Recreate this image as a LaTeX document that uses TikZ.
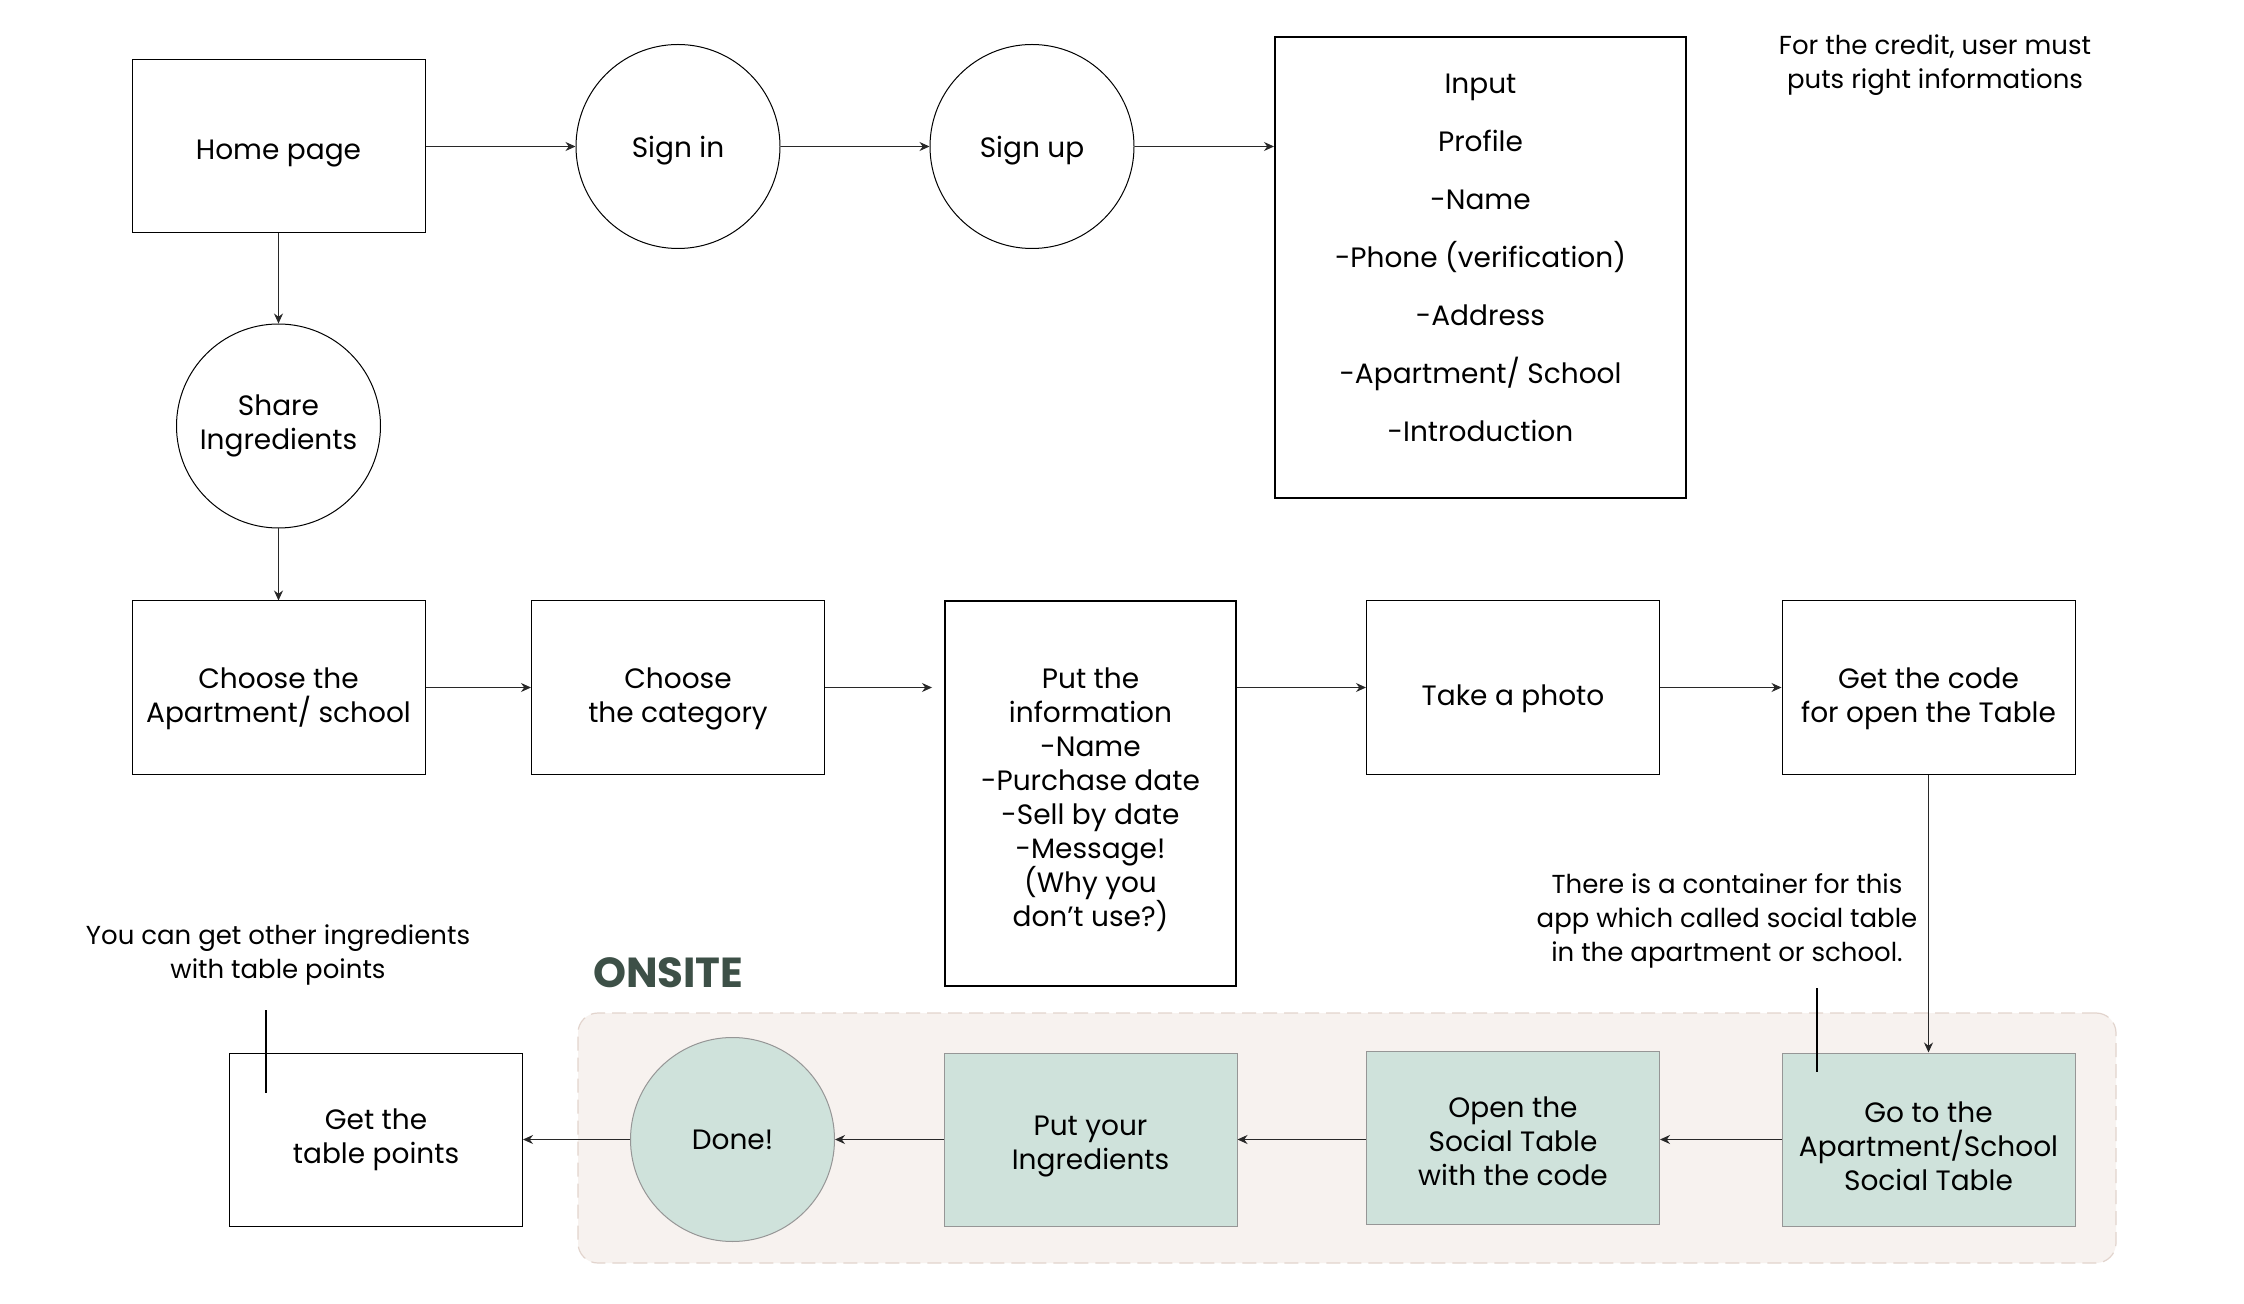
\documentclass[tikz,border=0pt]{standalone}
\usepackage{fontspec}
\setmainfont{Poppins}
\usetikzlibrary{arrows.meta}
\definecolor{greenfill}{RGB}{207,226,219}
\definecolor{greenline}{RGB}{150,150,150}
\definecolor{zonefill}{RGB}{247,242,239}
\definecolor{zoneline}{RGB}{226,212,205}
\definecolor{onsitec}{RGB}{61,80,71}
\definecolor{arrowc}{RGB}{40,40,40}
\begin{document}
\begin{tikzpicture}[x=0.5pt,y=-0.5pt,
  every node/.style={font=\fontsize{14}{17}\selectfont, align=center, text=black},
  box/.style={draw=black, line width=0.5pt, rectangle, minimum width=146.5pt, minimum height=86.5pt, inner sep=0pt},
  thickbox/.style={box, line width=1pt},
  circ/.style={draw=black, line width=0.5pt, circle, minimum size=102pt, inner sep=0pt},
  gbox/.style={box, fill=greenfill, draw=greenline},
  gcirc/.style={circ, fill=greenfill, draw=greenline},
  arr/.style={draw=arrowc, line width=0.6pt, -{Stealth[length=5pt,width=4.5pt]}},
  note/.style={font=\fontsize{13}{17}\selectfont},
  pointer/.style={draw=black, line width=0.8pt},
  zone/.style={draw=zoneline, fill=zonefill, line width=0.6pt, dash pattern=on 7pt off 3.5pt, rounded corners=10pt, minimum width=769pt, minimum height=125pt, inner sep=0pt},
]
\fill[white] (0,0) rectangle (2244,1304);
\useasboundingbox (0,0) rectangle (2244,1304);

% onsite zone
\node[zone] (zone) at (1347,1138) {};
\node[font=\fontsize{21}{22}\selectfont\bfseries, text=onsitec, anchor=west] (onsite) at (586,973) {ONSITE};

% row 1
\node[box, text height=16.4pt] (home) at (278.5,146.5) {Home page};
\node[circ, text height=14.4pt] (signin) at (678,146.5) {Sign in};
\node[circ, text height=14.4pt] (signup) at (1032,146.5) {Sign up};
\node[thickbox, minimum width=205.5pt, minimum height=230.5pt, font=\fontsize{14}{29}\selectfont, text height=174.4pt] (input) at (1480.5,267.5)
  {Input\\Profile\\-Name\\-Phone (verification)\\-Address\\-Apartment/ School\\-Introduction};
\node[note] (credit) at (1935,65) {For the credit, user must\\puts right informations};

\node[circ] (share) at (278.5,426) {Share\\Ingredients};

% row 2
\node[box, text height=38.4pt] (apt) at (278.5,687.5) {Choose the\\Apartment/ school};
\node[box, text height=38.4pt] (cat) at (678,687.5) {Choose\\the category};
\node[thickbox, minimum width=145.5pt, minimum height=192.5pt, text height=135.4pt] (info) at (1090.5,793.5)
  {Put the\\information\\-Name\\-Purchase date\\-Sell by date\\-Message!\\(Why you\\don’t use?)};
\node[box, text height=21.4pt] (photo) at (1513,687.5) {Take a photo};
\node[box, text height=38.4pt] (code) at (1928.5,687.5) {Get the code\\for open the Table};

% notes
\node[note] (container) at (1727,921) {There is a container for this\\app which called social table\\in the apartment or school.};
\node[note] (other) at (278,955) {You can get other ingredients\\with table points};

% row 3
\node[box] (points) at (376,1139.5) {Get the\\table points};
\node[gcirc] (done) at (732.5,1139.5) {Done!};
\node[gbox, text height=33.4pt] (put) at (1090.5,1139.5) {Put your\\Ingredients};
\node[gbox, text height=48.4pt] (open) at (1513,1137.5) {Open the\\Social Table\\with the code};
\node[gbox, text height=51.4pt] (go) at (1928.5,1139.5) {Go to the\\Apartment/School\\Social Table};

% connectors
\draw[arr] (home) -- (signin);
\draw[arr] (signin) -- (signup);
\draw[arr] (signup.east) -- (signup.east -| input.west);
\draw[arr] (home) -- (share);
\draw[arr] (share) -- (apt);
\draw[arr] (apt) -- (cat);
\draw[arr, shorten >=6pt] (cat.east) -- (cat.east -| info.west);
\draw[arr] (photo.west -| info.east) -- (photo.west);
\draw[arr] (photo) -- (code);
\draw[arr] (code) -- (go);
\draw[arr] (go.west) -- (go.west -| open.east);
\draw[arr] (open.west |- put.east) -- (put.east);
\draw[arr] (put) -- (done);
\draw[arr] (done) -- (points);

% pointers
\coordinate (p1a) at (1817,988);
\coordinate (p1b) at (1817,1072);
\draw[pointer] (p1a) -- (p1b);
\coordinate (p2a) at (266,1010);
\coordinate (p2b) at (266,1093);
\draw[pointer] (p2a) -- (p2b);
\end{tikzpicture}
\end{document}
